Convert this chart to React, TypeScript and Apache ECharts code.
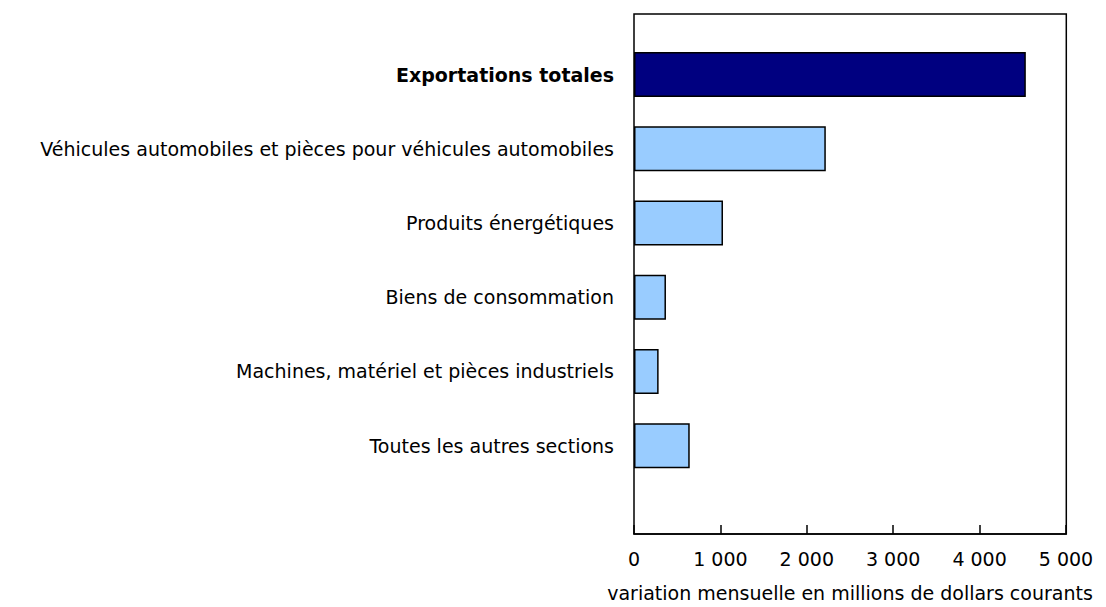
import React, { useEffect, useRef } from "react";
import * as echarts from "echarts";

const categories = [
  "Exportations totales",
  "Véhicules automobiles et pièces pour véhicules automobiles",
  "Produits énergétiques",
  "Biens de consommation",
  "Machines, matériel et pièces industriels",
  "Toutes les autres sections",
  "",
];
const values = [4535, 2220, 1030, 370, 285, 645, null];
const xTicks = [0, 1000, 2000, 3000, 4000, 5000];
const axisName = "variation mensuelle en millions de dollars courants";

const fmt = (v: number) => String(v).replace(/\B(?=(\d{3})+(?!\d))/g, " ");

export default function App() {
  const ref = useRef<HTMLDivElement>(null);
  useEffect(() => {
    if (!ref.current) return;
    const chart = echarts.init(ref.current, undefined, { renderer: "svg" });
    const font = "DejaVu Sans, Verdana, sans-serif";
    const fs = 19;
    chart.setOption({
      animation: false,
      grid: { left: 634, right: 40, top: 37.4, bottom: 49.8, containLabel: false },
      xAxis: {
        type: "value",
        min: xTicks[0],
        max: xTicks[xTicks.length - 1],
        interval: 1000,
        offset: -23,
        axisLine: { show: true, lineStyle: { color: "#000", width: 1.5 } },
        axisTick: { show: true, inside: true, length: 9, lineStyle: { color: "#000", width: 1.5 } },
        splitLine: { show: false },
        axisLabel: { color: "#000", fontSize: fs, fontFamily: font, margin: 15, formatter: (v: number) => fmt(v) },
        name: axisName,
        nameLocation: "middle",
        nameGap: 49,
        nameTextStyle: { color: "#000", fontSize: fs, fontFamily: font },
      },
      yAxis: {
        type: "category",
        inverse: true,
        data: categories,
        axisLine: { show: false },
        axisTick: { show: false },
        axisLabel: {
          color: "#000",
          fontSize: fs,
          fontFamily: font,
          margin: 20,
          formatter: (v: string, i: number) => (i === 0 ? "{b|" + v + "}" : v),
          rich: { b: { fontWeight: "bold", fontSize: fs, fontFamily: font, color: "#000" } },
        },
      },
      series: [
        {
          type: "bar",
          barWidth: 45,
          data: values.map((v, i) => ({
            value: v,
            itemStyle: {
              color: i === 0 ? "#000080" : "#99ccff",
              borderColor: "#000",
              borderWidth: 1.5,
            },
          })),
        },
      ],
      graphic: [
        {
          type: "rect",
          shape: { x: 634, y: 14, width: 432.3, height: 520 },
          style: { fill: "none", stroke: "#000", lineWidth: 1.5 },
          z: 100,
          silent: true,
        },
      ],
    });
    return () => chart.dispose();
  }, []);
  return <div ref={ref} style={{ position: "absolute", left: 0, top: 0, width: 1106, height: 607 }} />;
}
